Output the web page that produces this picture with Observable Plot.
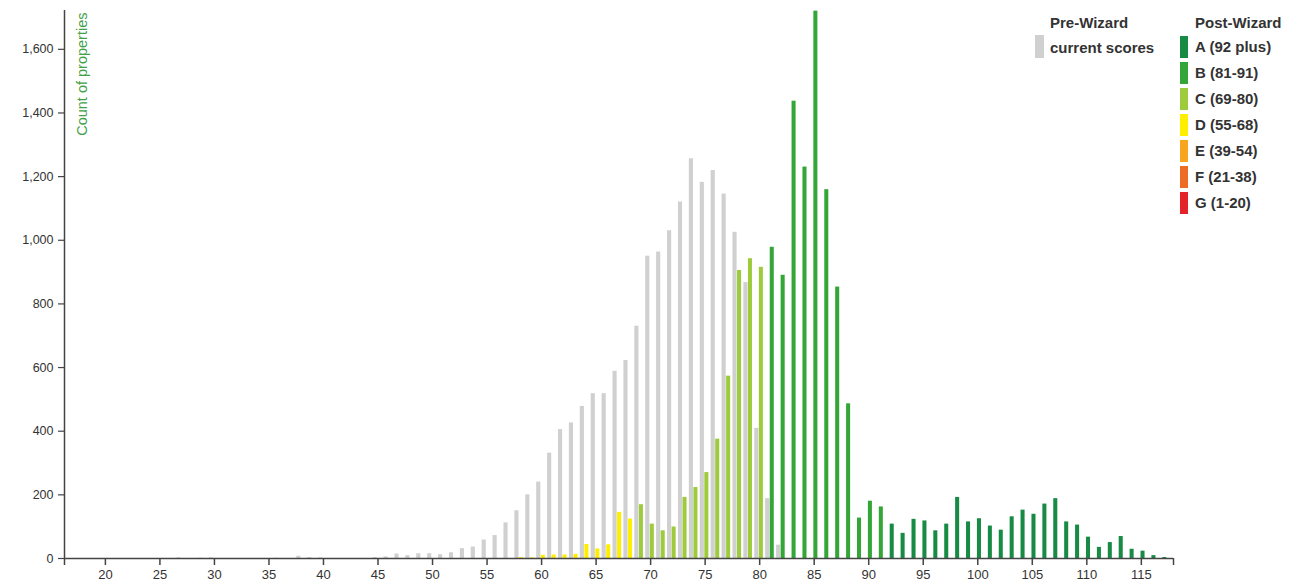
<!DOCTYPE html>
<html><head><meta charset="utf-8">
<script src="https://cdn.jsdelivr.net/npm/d3@7"></script>
<script src="https://cdn.jsdelivr.net/npm/@observablehq/plot@0.6"></script>
<style>
body{margin:0;background:#fff;font-family:"Liberation Sans",Arial,sans-serif;}
#wrap{position:relative;width:1291px;height:586px;overflow:hidden;}
.lg{position:absolute;font-weight:bold;font-size:15px;color:#333;white-space:nowrap;line-height:22px;}
.sw{position:absolute;}
</style></head><body><div id="wrap"></div>
<script>
// Pre-Wizard (current scores) counts per score
const preScores = [27,29,30,36,38,39,40,45,46,47,48,49,50,51,52,53,54,55,56,57,58,59,60,61,62,63,64,65,66,67,68,69,70,71,72,73,74,75,76,77,78,79,80,81,82];
const preCounts = [2,1,2,1,7,3,2,3,5,14,9,15,15,12,18,31,36,58,72,112,150,200,240,331,405,426,478,518,518,588,622,730,950,963,1030,1120,1256,1182,1219,1145,1025,867,409,188,42];
// Post-Wizard counts per score
const postScores = [58,59,60,61,62,63,64,65,66,67,68,69,70,71,72,73,74,75,76,77,78,79,80,81,82,83,84,85,86,87,88,89,90,91,92,93,94,95,96,97,98,99,100,101,102,103,104,105,106,107,108,109,110,111,112,113,114,115,116,117];
const postCounts = [3,2,10,11,11,13,44,30,43,145,124,169,108,87,99,192,223,270,375,573,905,942,915,978,890,1437,1230,1720,1159,853,486,127,180,162,108,79,123,118,87,108,192,115,125,102,89,131,152,139,171,188,115,105,67,35,50,69,29,23,9,3];
// Grades
const gradeLabels = ["A (92 plus)","B (81-91)","C (69-80)","D (55-68)","E (39-54)","F (21-38)","G (1-20)"];
const gradeMins = [92,81,69,55,39,21,1];
const gradeColors = ["#178a44","#33a637","#9dcb3c","#ffee00","#f8a620","#ee6b24","#e32229"];
const preColor = "#d0d0d0";
const preLegendTitle = "Pre-Wizard";
const preLegendLabel = "current scores";
const postLegendTitle = "Post-Wizard";
const yLabel = "Count of properties";
const xTicks = d3.range(20, 116, 5);
const yTicks = d3.range(0, 1601, 200);
const xDomain = [16.25, 117.95];
const yDomain = [0, 1722];

const gradeOf = s => gradeLabels[gradeMins.findIndex(m => s >= m)];
const pre = preScores.map((s, i) => ({score: s, count: preCounts[i]}));
const post = postScores.map((s, i) => ({score: s, count: postCounts[i], grade: gradeOf(s)}));

const axisColor = "#444";
const fmt = d3.format(",");
const chart = Plot.plot({
  width: 1291,
  height: 586,
  marginLeft: 64,
  marginRight: 118,
  marginTop: 10,
  marginBottom: 28,
  style: {fontFamily: "'Liberation Sans', Arial, sans-serif", fontSize: "13px", color: "#333", background: "#fff"},
  x: {domain: xDomain, axis: null},
  y: {domain: yDomain, axis: null},
  color: {domain: gradeLabels, range: gradeColors},
  marks: [
    Plot.rectY(pre, {x1: d => d.score - 0.45, x2: d => d.score - 0.07, y: "count", fill: preColor}),
    Plot.rectY(post, {x1: d => d.score - 0.03, x2: d => d.score + 0.34, y: "count", fill: "grade"}),
    Plot.axisX({ticks: xTicks, tickSize: 7, tickPadding: 4, stroke: axisColor, strokeWidth: 1.5, label: null, fontSize: 13}),
    Plot.axisX({ticks: xDomain, tickSize: 7, tickFormat: () => "", stroke: axisColor, strokeWidth: 1.5, label: null}),
    Plot.axisY({ticks: yTicks, tickSize: 6, tickPadding: 5, tickFormat: d => fmt(d), stroke: axisColor, strokeWidth: 1.2, label: null, fontSize: 12.5}),
    Plot.ruleY([0], {stroke: axisColor, strokeWidth: 1.5}),
    Plot.ruleX([xDomain[0]], {stroke: axisColor, strokeWidth: 1.5}),
    Plot.text([yLabel], {frameAnchor: "top-left", rotate: -90, textAnchor: "end", dx: 12, dy: 2, fill: "#43a047", fontSize: 14.5})
  ]
});
const wrap = document.getElementById("wrap");
wrap.appendChild(chart);

function addDiv(cls, css, text) {
  const d = document.createElement("div");
  d.className = cls;
  Object.assign(d.style, css);
  if (text) d.textContent = text;
  wrap.appendChild(d);
}
addDiv("lg", {left: "1050px", top: "12px"}, preLegendTitle);
addDiv("sw", {left: "1035px", top: "35px", width: "9px", height: "23px", background: preColor});
addDiv("lg", {left: "1050px", top: "37px"}, preLegendLabel);
addDiv("lg", {left: "1195px", top: "12px"}, postLegendTitle);
gradeLabels.forEach((g, i) => {
  addDiv("sw", {left: "1180px", top: (36 + 26 * i) + "px", width: "8px", height: "22px", background: gradeColors[i]});
  addDiv("lg", {left: "1195px", top: (36 + 26 * i) + "px"}, g);
});
</script>
</body></html>
